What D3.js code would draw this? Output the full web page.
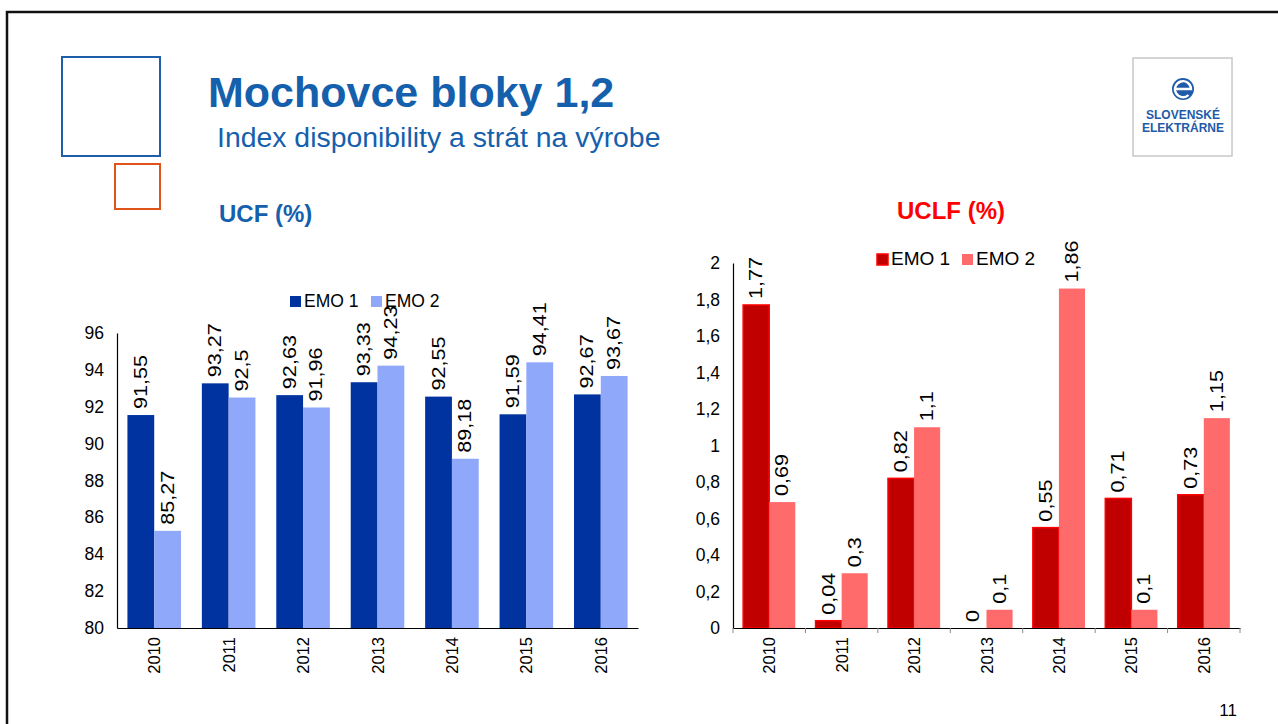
<!DOCTYPE html>
<html>
<head>
<meta charset="utf-8">
<script src="https://cdn.jsdelivr.net/npm/d3@7"></script>
<style>
  body { margin: 0; background: #fff; }
  svg { display: block; font-family: Arial, "Liberation Sans", sans-serif; }
</style>
</head>
<body>
<svg id="slide" width="1278" height="724"></svg>
<script>
const years = ["2010", "2011", "2012", "2013", "2014", "2015", "2016"];
const seriesNames = ["EMO 1", "EMO 2"];
const ucfEmo1 = [91.55, 93.27, 92.63, 93.33, 92.55, 91.59, 92.67];
const ucfEmo2 = [85.27, 92.5, 91.96, 94.23, 89.18, 94.41, 93.67];
const uclfEmo1 = [1.77, 0.04, 0.82, 0, 0.55, 0.71, 0.73];
const uclfEmo2 = [0.69, 0.3, 1.1, 0.1, 1.86, 0.1, 1.15];
const ucfTicks = [80, 82, 84, 86, 88, 90, 92, 94, 96];
const uclfTicks = [0, 0.2, 0.4, 0.6, 0.8, 1, 1.2, 1.4, 1.6, 1.8, 2];

const svg = d3.select("#slide");
const fmt = v => String(v).replace(".", ",");
const FONT = "Arial, 'Liberation Sans', sans-serif";

// slide frame
svg.append("path")
  .attr("d", "M7,730 L7,12 L1290,12")
  .attr("fill", "none")
  .attr("stroke", "#111")
  .attr("stroke-width", 2.5);

// decorative squares
svg.append("rect").attr("x", 62).attr("y", 57).attr("width", 98).attr("height", 99)
  .attr("fill", "none").attr("stroke", "#1F5FAA").attr("stroke-width", 2);
svg.append("rect").attr("x", 115).attr("y", 164).attr("width", 45).attr("height", 45)
  .attr("fill", "none").attr("stroke", "#E0541C").attr("stroke-width", 2);

// titles
svg.append("text").attr("x", 208).attr("y", 107)
  .attr("font-size", "43px").attr("font-weight", "bold").attr("fill", "#1560AC")
  .text("Mochovce bloky 1,2");
svg.append("text").attr("x", 217).attr("y", 147)
  .attr("font-size", "28.4px").attr("fill", "#1560AC")
  .text("Index disponibility a strát na výrobe");
svg.append("text").attr("x", 219).attr("y", 222)
  .attr("font-size", "24px").attr("font-weight", "bold").attr("fill", "#1560AC")
  .text("UCF (%)");
svg.append("text").attr("x", 951).attr("y", 219).attr("text-anchor", "middle")
  .attr("font-size", "24px").attr("font-weight", "bold").attr("fill", "#FF0000")
  .text("UCLF (%)");

// logo
const logo = svg.append("g");
logo.append("rect").attr("x", 1133).attr("y", 58).attr("width", 99).attr("height", 98)
  .attr("fill", "#fff").attr("stroke", "#c8c8c8").attr("stroke-width", 1.5);
logo.append("circle").attr("cx", 1183).attr("cy", 89).attr("r", 11).attr("fill", "#1F5BA8");
logo.append("path")
  .attr("d", "M1175,89 L1191,89 A8,8 0 1 0 1188.5,95")
  .attr("fill", "none").attr("stroke", "#fff").attr("stroke-width", 2.4);
logo.append("text").attr("x", 1183).attr("y", 119).attr("text-anchor", "middle")
  .attr("font-size", "12px").attr("font-weight", "bold").attr("fill", "#1F5BA8")
  .text("SLOVENSKÉ");
logo.append("text").attr("x", 1183).attr("y", 132).attr("text-anchor", "middle")
  .attr("font-size", "12px").attr("font-weight", "bold").attr("fill", "#1F5BA8")
  .text("ELEKTRÁRNE");

// page number
svg.append("text").attr("x", 1237).attr("y", 716).attr("text-anchor", "end")
  .attr("font-size", "17px").attr("fill", "#000").text("11");

function drawChart(opts) {
  const g = svg.append("g");
  const x = d3.scaleBand().domain(years).range([opts.x0, opts.x1]).paddingInner(0.28).paddingOuter(0.14);
  const x1 = d3.scaleBand().domain(seriesNames).range([0, x.bandwidth()]);
  const y = d3.scaleLinear().domain(opts.domain).range([opts.yBottom, opts.yTop]);

  const rows = years.map((yr, i) => ({ year: yr, vals: [opts.s1[i], opts.s2[i]] }));

  const grp = g.selectAll(".cat").data(rows).join("g")
    .attr("transform", d => `translate(${x(d.year)},0)`);

  grp.selectAll("rect").data(d => d.vals.map((v, j) => ({ v, name: seriesNames[j], j })))
    .join("rect")
    .attr("x", d => x1(d.name))
    .attr("y", d => y(d.v))
    .attr("width", x1.bandwidth())
    .attr("height", d => y(opts.domain[0]) - y(d.v))
    .attr("fill", d => opts.colors[d.j])
    .attr("stroke", d => opts.strokes[d.j])
    .attr("stroke-width", d => opts.strokes[d.j] === "none" ? 0 : 1.5);

  // value labels, a bit stretched along the reading direction like the original
  grp.selectAll("text").data(d => d.vals.map((v, j) => ({ v, name: seriesNames[j] })))
    .join("text")
    .attr("transform", d => `translate(${x1(d.name) + x1.bandwidth() / 2 + 6},${y(d.v) - 6}) rotate(-90) scale(1.2,1)`)
    .attr("font-size", "18px")
    .attr("fill", "#000")
    .text(d => fmt(d.v));

  // y axis
  const yAxis = g.append("g").attr("transform", `translate(${opts.x0},0)`)
    .call(d3.axisLeft(y).tickValues(opts.ticks).tickSize(0).tickPadding(13).tickFormat(fmt));
  yAxis.select(".domain").attr("stroke", "#000").attr("stroke-width", 1.2);
  yAxis.selectAll("text").attr("font-size", "17.5px").attr("fill", "#000").attr("font-family", FONT);

  // x axis
  const xAxis = g.append("g").attr("transform", `translate(0,${opts.yBottom})`)
    .call(d3.axisBottom(x).tickSize(0).tickPadding(0));
  xAxis.select(".domain").attr("stroke", "#000").attr("stroke-width", 1.2);
  xAxis.selectAll(".tick text")
    .attr("font-size", "16.5px").attr("fill", "#000").attr("font-family", FONT)
    .attr("text-anchor", "end")
    .attr("transform", "translate(6,9) rotate(-90)")
    .attr("dy", null).attr("y", 0).attr("x", 0);

  if (opts.catTicks) {
    const step = x.step();
    g.append("g").selectAll("line").data(d3.range(years.length + 1)).join("line")
      .attr("x1", i => opts.x0 + i * step).attr("x2", i => opts.x0 + i * step)
      .attr("y1", opts.yBottom).attr("y2", opts.yBottom + 5)
      .attr("stroke", "#888").attr("stroke-width", 1);
  }

  // legend
  const lg = g.append("g").attr("transform", `translate(${opts.legendX},${opts.legendY})`);
  let lx = 0;
  seriesNames.forEach((n, j) => {
    lg.append("rect").attr("x", lx).attr("y", -11).attr("width", 11).attr("height", 11)
      .attr("fill", opts.colors[j])
      .attr("stroke", opts.strokes[j]).attr("stroke-width", opts.strokes[j] === "none" ? 0 : 1.5);
    lg.append("text").attr("x", lx + 14).attr("y", 0)
      .attr("font-size", opts.legendSize).attr("fill", "#000").text(n);
    lx += opts.legendGap;
  });
}

drawChart({
  x0: 117, x1: 638, yTop: 333, yBottom: 628,
  domain: [80, 96], ticks: ucfTicks,
  s1: ucfEmo1, s2: ucfEmo2,
  colors: ["#0033A0", "#8FA8FA"], strokes: ["none", "none"],
  legendX: 290, legendY: 307, legendGap: 81, legendSize: "17.5px", catTicks: false
});

drawChart({
  x0: 733, x1: 1240, yTop: 263, yBottom: 628,
  domain: [0, 2], ticks: uclfTicks,
  s1: uclfEmo1, s2: uclfEmo2,
  colors: ["#C00000", "#FF6B6B"], strokes: ["#FF0000", "none"],
  legendX: 877, legendY: 265, legendGap: 85, legendSize: "19px", catTicks: true
});
</script>
</body>
</html>
